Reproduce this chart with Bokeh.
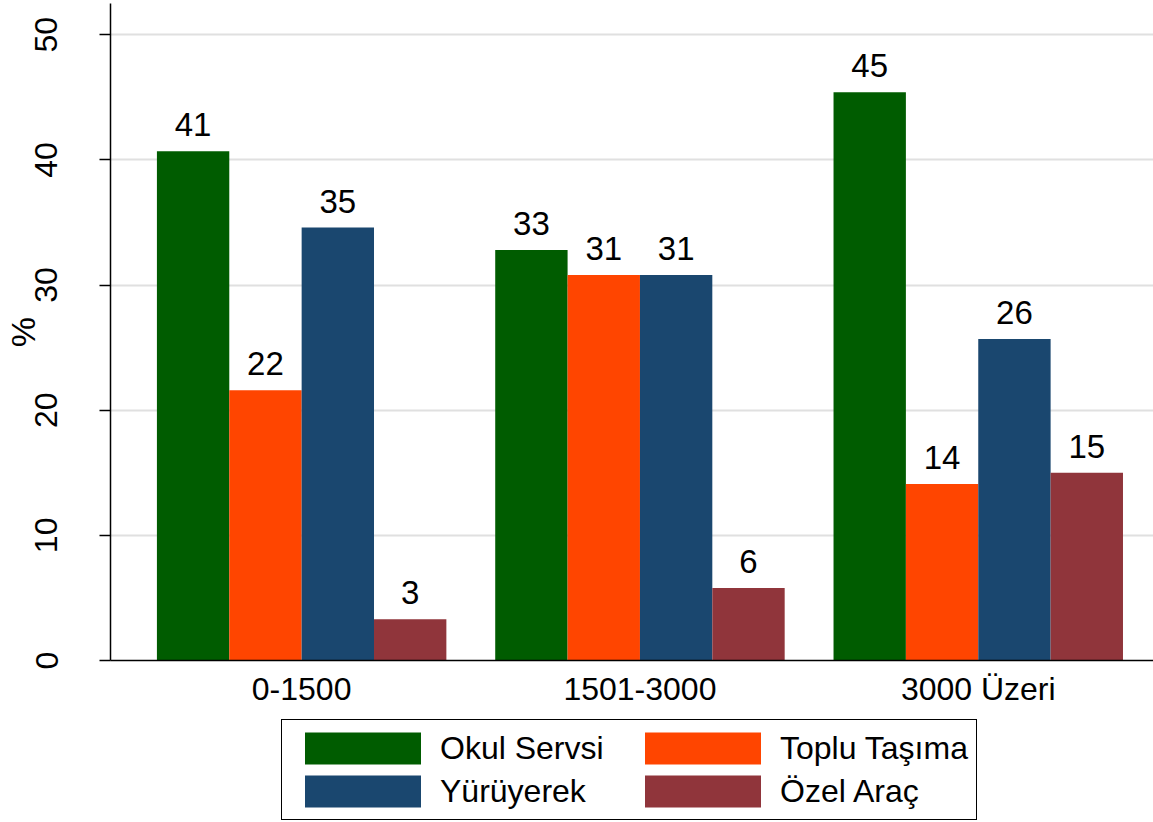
from bokeh.plotting import figure
from bokeh.layouts import column
from bokeh.models import (ColumnDataSource, FixedTicker, Range1d, Legend, LegendItem)
from bokeh.transform import dodge
from bokeh.core.properties import value
from bokeh.embed import file_html
from bokeh.resources import INLINE

# Income groups and share (%) of each way of getting to school
categories = ["0-1500", "1501-3000", "3000 Üzeri"]
okul_servisi = [40.7, 32.8, 45.4]
toplu_tasima = [21.6, 30.8, 14.1]
yuruyerek = [34.6, 30.8, 25.7]
ozel_arac = [3.3, 5.8, 15.0]

series_names = ["Okul Servsi", "Toplu Taşıma", "Yürüyerek", "Özel Araç"]
series_values = [okul_servisi, toplu_tasima, yuruyerek, ozel_arac]
series_colors = ["#005C00", "#FF4500", "#1A476F", "#90353B"]
y_ticks = [0, 10, 20, 30, 40, 50]

FONT = "Liberation Sans"
positions = list(range(1, len(categories) + 1))
bar_w = 0.2139

p = figure(width=1153, height=709, output_backend="svg", toolbar_location=None,
           x_range=Range1d(0.435, 3.518), y_range=Range1d(0, 52.5),
           min_border_left=0, min_border_right=0, min_border_top=3,
           min_border_bottom=0)
p.outline_line_color = None
p.background_fill_color = "white"
p.border_fill_color = "white"

offsets = [-1.5 * bar_w, -0.5 * bar_w, 0.5 * bar_w, 1.5 * bar_w]
for name, vals, color, off in zip(series_names, series_values, series_colors, offsets):
    src = ColumnDataSource(dict(x=positions, y=vals,
                                label=[f"{v:.0f}" for v in vals]))
    p.vbar(x=dodge("x", off, range=p.x_range), top="y", width=bar_w,
           source=src, fill_color=color, line_color=None)
    p.text(x=dodge("x", off, range=p.x_range), y="y", text="label", source=src,
           text_align="center", text_baseline="bottom", y_offset=-15,
           text_font=value(FONT), text_font_size="33px", text_color="black")

# y axis
p.yaxis.ticker = FixedTicker(ticks=y_ticks)
p.yaxis.axis_label = "%"
p.yaxis.axis_label_text_font = FONT
p.yaxis.axis_label_text_font_style = "normal"
p.yaxis.axis_label_text_font_size = "34px"
p.yaxis.axis_label_text_color = "black"
p.yaxis.axis_label_standoff = -9
p.yaxis.major_label_text_font = FONT
p.yaxis.major_label_text_font_size = "32px"
p.yaxis.major_label_text_color = "black"
p.yaxis.major_label_orientation = "vertical"
p.yaxis.major_label_standoff = 42
p.yaxis.major_tick_out = 11
p.yaxis.major_tick_in = 0
p.yaxis.minor_tick_line_color = None
p.yaxis.axis_line_width = 1.5
p.yaxis.major_tick_line_width = 1.5

# x axis
p.xaxis.ticker = FixedTicker(ticks=positions)
p.xaxis.major_label_overrides = {k: c for k, c in zip(positions, categories)}
p.xaxis.major_label_text_font = FONT
p.xaxis.major_label_text_font_size = "32px"
p.xaxis.major_label_text_color = "black"
p.xaxis.major_label_standoff = 10
p.xaxis.major_tick_out = 0
p.xaxis.major_tick_in = 0
p.xaxis.minor_tick_line_color = None
p.xaxis.axis_line_width = 1.5

p.xgrid.grid_line_color = None
p.ygrid.grid_line_color = "#E0E0E0"
p.ygrid.grid_line_width = 2
p.ygrid.ticker = FixedTicker(ticks=y_ticks[1:])

# legend strip underneath the chart (zero-height proxy bars carry the swatches);
# its frame lines up with the chart's frame, so the offset is frame-relative
lg = figure(width=1153, height=113, output_backend="svg", toolbar_location=None,
            x_range=Range1d(0, 1), y_range=Range1d(0, 1), min_border=0,
            x_axis_location=None, y_axis_location=None)
lg.grid.grid_line_color = None
lg.outline_line_color = None
swatches = []
for name, color in zip(series_names, series_colors):
    swatches.append(lg.vbar(x=[0], top=[0], width=0, fill_color=color,
                            line_color=None))

legend = Legend(items=[LegendItem(label=n, renderers=[r])
                       for n, r in zip(series_names, swatches)],
                orientation="horizontal", ncols=2,
                glyph_width=145, glyph_height=40, label_standoff=5,
                label_width=187, spacing=3, padding=8, margin=0,
                label_text_font=FONT, label_text_font_size="32px",
                label_text_color="black",
                border_line_color="black", border_line_width=1.5,
                border_line_alpha=1.0,
                location=(171, 2))
lg.add_layout(legend, "center")

open("out.html", "w").write(file_html(column(p, lg, spacing=0), INLINE))
